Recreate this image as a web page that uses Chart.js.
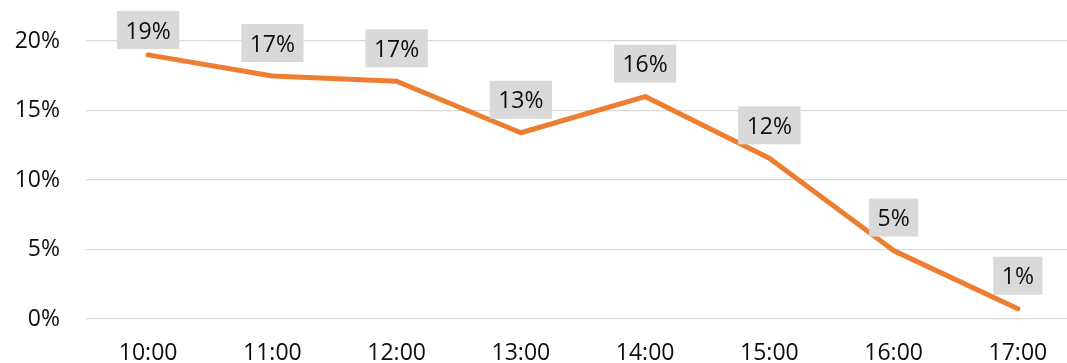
<!DOCTYPE html>
<html>
<head>
  <meta charset="UTF-8">
  <title>Share by hour</title>
  <script src="https://cdn.jsdelivr.net/npm/chart.js"></script>
  <style>
    html, body { margin: 0; padding: 0; background: #fff; overflow: hidden; }
    .wrap { width: 1080px; height: 363px; }
  </style>
</head>
<body>

<div class="wrap">
  <canvas id="hourChart"></canvas>
</div>

<script>
  const hours = ['10:00', '11:00', '12:00', '13:00', '14:00', '15:00', '16:00', '17:00'];
  const shares = [19.0, 17.48, 17.1, 13.4, 16.0, 11.56, 4.92, 0.74];
  const yTicks = [0, 5, 10, 15, 20];

  const FONT = '"Open Sans", sans-serif';
  const FONT_SIZE = 23;
  const TEXT = '#0d0d0d';

  // grey boxes with the rounded value above every point
  const valueBoxes = {
    id: 'valueBoxes',
    afterDatasetsDraw(chart) {
      const ctx = chart.ctx;
      const meta = chart.getDatasetMeta(0);
      ctx.save();
      ctx.font = FONT_SIZE + 'px ' + FONT;
      ctx.textAlign = 'center';
      ctx.textBaseline = 'middle';
      meta.data.forEach((pt, i) => {
        const text = Math.round(shares[i]) + '%';
        const w = ctx.measureText(text).width + 17;
        const h = 38;
        let top = pt.y - 33 - h / 2;
        if (top < 11) top = 11;
        ctx.fillStyle = '#d9d9d9';
        ctx.fillRect(pt.x - w / 2, top, w, h);
        ctx.fillStyle = TEXT;
        ctx.fillText(text, pt.x, top + h / 2 + 2);
      });
      ctx.restore();
    }
  };

  const ctx = document.getElementById('hourChart').getContext('2d');
  new Chart(ctx, {
    type: 'line',
    data: {
      labels: hours,
      datasets: [{
        data: shares,
        borderColor: '#ed7d31',
        borderWidth: 5,
        borderCapStyle: 'round',
        borderJoinStyle: 'round',
        pointRadius: 0,
        tension: 0,
        fill: false
      }]
    },
    options: {
      responsive: true,
      maintainAspectRatio: false,
      animation: false,
      layout: { padding: { top: 41, left: 0, right: 0, bottom: 0 } },
      plugins: {
        legend: { display: false },
        tooltip: { enabled: false }
      },
      scales: {
        x: {
          offset: true,
          grid: { display: false },
          border: { display: false },
          ticks: { color: TEXT, font: { family: FONT, size: FONT_SIZE }, padding: 13, maxRotation: 0 },
          afterFit(scale) { scale.height = 44; }
        },
        y: {
          min: 0,
          max: 20,
          afterBuildTicks(scale) { scale.ticks = yTicks.map(v => ({ value: v })); },
          grid: { color: '#d9d9d9', lineWidth: 1.3, drawTicks: false },
          border: { display: false },
          ticks: {
            color: TEXT,
            font: { family: FONT, size: FONT_SIZE },
            padding: 26,
            callback: v => v + '%'
          },
          afterFit(scale) { scale.width = 86; }
        }
      }
    },
    plugins: [valueBoxes]
  });
</script>

</body>
</html>
